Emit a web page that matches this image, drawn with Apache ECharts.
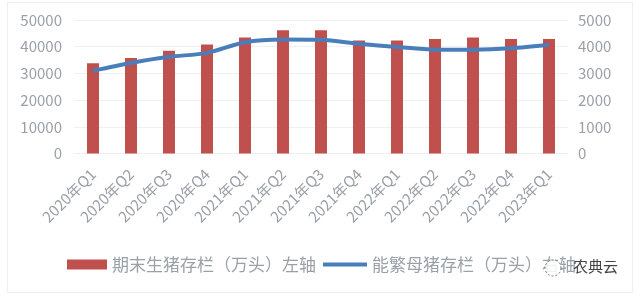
<!DOCTYPE html>
<html><head><meta charset="utf-8">
<script src="https://cdn.jsdelivr.net/npm/echarts@6/dist/echarts.min.js"></script>
<style>html,body{margin:0;padding:0;background:#fff}#c{width:641px;height:297px}</style>
</head><body><div id="c"></div>
<script>
var categories = ['2020年Q1','2020年Q2','2020年Q3','2020年Q4','2021年Q1','2021年Q2','2021年Q3','2021年Q4','2022年Q1','2022年Q2','2022年Q3','2022年Q4','2023年Q1'];
var hogStock = [33800, 35800, 38500, 40800, 43400, 46200, 46200, 42300, 42300, 42900, 43400, 42900, 42900];
var sowStock = [3100, 3390, 3620, 3770, 4170, 4270, 4260, 4110, 3990, 3890, 3890, 3940, 4070];
var leftTicks = [0, 10000, 20000, 30000, 40000, 50000];
var rightTicks = [0, 1000, 2000, 3000, 4000, 5000];
var seriesNames = ['期末生猪存栏（万头）左轴', '能繁母猪存栏（万头）右轴'];

var font = '"Noto Sans CJK SC", "Noto Sans", sans-serif';
var grey = '#9aa0a8';
var chart = echarts.init(document.getElementById('c'), null, {renderer: 'canvas'});
chart.setOption({
  animation: false,
  backgroundColor: '#fff',
  grid: {left: 74, right: 73, top: 20, bottom: 143.5, containLabel: false},
  legend: [
    {left: 62, top: 251, itemWidth: 40, itemHeight: 10,
     textStyle: {color: grey, fontSize: 17, fontFamily: font},
     data: [{name: seriesNames[0], icon: 'rect'}]},
    {left: 318, top: 251, itemWidth: 44, itemHeight: 4,
     textStyle: {color: grey, fontSize: 17, fontFamily: font},
     data: [{name: seriesNames[1], icon: 'rect', itemStyle: {color: '#4a7ebb'}}]}
  ],
  xAxis: {
    type: 'category', data: categories,
    axisLine: {show: true, lineStyle: {color: '#eeeeee'}},
    axisTick: {show: false},
    axisLabel: {rotate: 45, margin: 18, color: grey, fontSize: 15, fontFamily: font, interval: 0}
  },
  yAxis: [
    {type: 'value', min: leftTicks[0], max: leftTicks[leftTicks.length-1], interval: 10000,
     axisLine: {show: false}, axisTick: {show: false},
     splitLine: {lineStyle: {color: '#f0f0f0'}},
     axisLabel: {color: grey, fontSize: 15, fontFamily: font, margin: 12, formatter: function (v) { return String(v); }}},
    {type: 'value', min: rightTicks[0], max: rightTicks[rightTicks.length-1], interval: 1000,
     axisLine: {show: false}, axisTick: {show: false}, splitLine: {show: false},
     axisLabel: {color: grey, fontSize: 15, fontFamily: font, margin: 10, formatter: function (v) { return String(v); }}}
  ],
  series: [
    {name: seriesNames[0], type: 'bar', data: hogStock, barWidth: 12,
     itemStyle: {color: '#c0504d'}},
    {name: seriesNames[1], type: 'line', yAxisIndex: 1, data: sowStock, smooth: 0.3,
     showSymbol: false, symbol: 'none', lineStyle: {color: '#4a7ebb', width: 4}, itemStyle: {color: '#4a7ebb'}}
  ],
  graphic: [
    {type: 'rect', left: 5, top: 0, shape: {width: 625, height: 290},
     style: {fill: 'none', stroke: '#eeeeee', lineWidth: 1}, silent: true, z: -1},
    {type: 'circle', shape: {cx: 553, cy: 268, r: 8}, style: {fill: 'rgba(255,255,255,0.85)', stroke: '#777', lineWidth: 1, lineDash: [2, 2]}, z: 100},
    {type: 'text', left: 573, top: 259, style: {text: '农典云', fill: '#444', font: '15px ' + font}, z: 100}
  ]
});
</script></body></html>
